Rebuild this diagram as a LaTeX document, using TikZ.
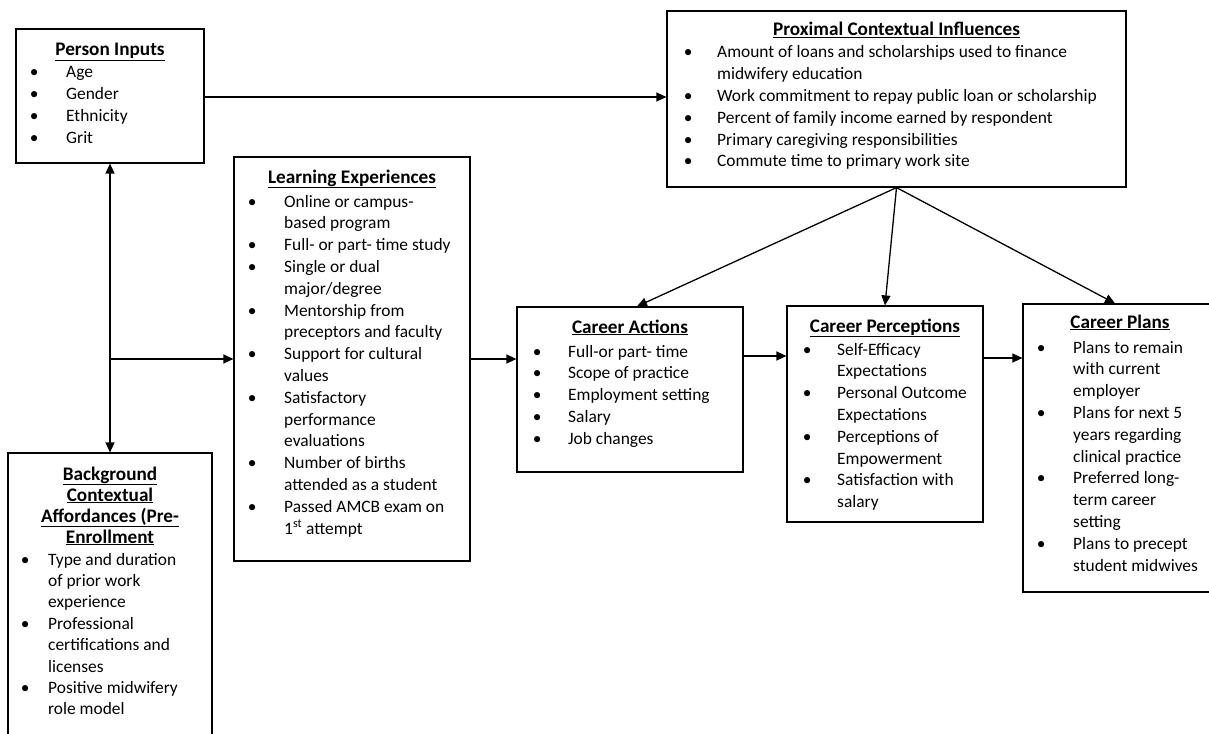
\documentclass[tikz,border=0pt]{standalone}
\usepackage{fontspec}
\setmainfont{Carlito}
\usetikzlibrary{arrows.meta}
% bullet set in a fixed-width slot, and the indent of a wrapped line
\newcommand\bl[1]{\makebox[#1][l]{\makebox[20pt]{\textbullet}}}
\newcommand\cn[1]{\hspace*{#1}}

\begin{document}
\begin{tikzpicture}[x=1pt,y=-1pt,
  box/.style={draw, line width=1.2pt, inner sep=0pt},
  ttl/.style={font=\fontsize{19.2}{21}\selectfont\bfseries, inner sep=0pt, anchor=base},
  lst/.style={font=\fontsize{17.4}{21.8}\selectfont, inner sep=0pt, anchor=base west},
  arr/.style={line width=1.3pt, -{Triangle[length=10pt,width=9pt]}},
  arrboth/.style={line width=1.3pt, {Triangle[length=10pt,width=9pt]}-{Triangle[length=10pt,width=9pt]}},
]
\useasboundingbox (0,0) rectangle (1209,733);

% ---------- frames ----------
\node[box, minimum width=188pt, minimum height=134pt] (pin)   at (110,96)    {};
\node[box, minimum width=459pt, minimum height=176pt] (prox)  at (896.5,99)  {};
\node[box, minimum width=236pt, minimum height=404pt] (learn) at (352,359)   {};
\node[box, minimum width=226pt, minimum height=165pt] (act)   at (630,389.5) {};
\node[box, minimum width=196pt, minimum height=216pt] (perc)  at (885,414)   {};
\node[box, minimum width=194pt, minimum height=288pt] (plan)  at (1120,448)  {};
\node[box, minimum width=204pt, minimum height=307pt] (bg)    at (110,606.5) {};

% ---------- Person Inputs ----------
\node[ttl] (pin-t) at (110,56) {\underline{Person Inputs}};
\node[lst] (pin-l) at (24,78) {\begin{tabular}[t]{@{}l@{}}
\bl{42pt}Age\\
\bl{42pt}Gender\\
\bl{42pt}Ethnicity\\
\bl{42pt}Grit
\end{tabular}};

% ---------- Proximal Contextual Influences ----------
\node[ttl] (prox-t) at (896.5,36) {\underline{Proximal Contextual Influences}};
\node[lst] (prox-l) at (678,58) {\begin{tabular}[t]{@{}l@{}}
\bl{39pt}Amount of loans and scholarships used to finance\\
\cn{39pt}midwifery education\\
\bl{39pt}Work commitment to repay public loan or scholarship\\
\bl{39pt}Percent of family income earned by respondent\\
\bl{39pt}Primary caregiving responsibilities\\
\bl{39pt}Commute time to primary work site
\end{tabular}};

% ---------- Learning Experiences ----------
\node[ttl] (learn-t) at (352,183) {\underline{Learning Experiences}};
\node[lst] (learn-l) at (242,207) {\begin{tabular}[t]{@{}l@{}}
\bl{42pt}Online or campus-\\
\cn{42pt}based program\\
\bl{42pt}Full- or part- time study\\
\bl{42pt}Single or dual\\
\cn{42pt}major/degree\\
\bl{42pt}Mentorship from\\
\cn{42pt}preceptors and faculty\\
\bl{42pt}Support for cultural\\
\cn{42pt}values\\
\bl{42pt}Satisfactory\\
\cn{42pt}performance\\
\cn{42pt}evaluations\\
\bl{42pt}Number of births\\
\cn{42pt}attended as a student\\
\bl{42pt}Passed AMCB exam on\\
\cn{42pt}1\textsuperscript{st} attempt
\end{tabular}};

% ---------- Career Actions ----------
\node[ttl] (act-t) at (630,333) {\underline{Career Actions}};
\node[lst] (act-l) at (527,357) {\begin{tabular}[t]{@{}l@{}}
\bl{41pt}Full-or part- time\\
\bl{41pt}Scope of practice\\
\bl{41pt}Employment setting\\
\bl{41pt}Salary\\
\bl{41pt}Job changes
\end{tabular}};

% ---------- Career Perceptions ----------
\node[ttl] (perc-t) at (885,332) {\underline{Career Perceptions}};
\node[lst] (perc-l) at (797,355) {\begin{tabular}[t]{@{}l@{}}
\bl{40pt}Self-Efficacy\\
\cn{40pt}Expectations\\
\bl{40pt}Personal Outcome\\
\cn{40pt}Expectations\\
\bl{40pt}Perceptions of\\
\cn{40pt}Empowerment\\
\bl{40pt}Satisfaction with\\
\cn{40pt}salary
\end{tabular}};

% ---------- Career Plans ----------
\node[ttl] (plan-t) at (1120,328) {\underline{Career Plans}};
\node[lst] (plan-l) at (1031,353) {\begin{tabular}[t]{@{}l@{}}
\bl{42pt}Plans to remain\\
\cn{42pt}with current\\
\cn{42pt}employer\\
\bl{42pt}Plans for next 5\\
\cn{42pt}years regarding\\
\cn{42pt}clinical practice\\
\bl{42pt}Preferred long-\\
\cn{42pt}term career\\
\cn{42pt}setting\\
\bl{42pt}Plans to precept\\
\cn{42pt}student midwives
\end{tabular}};

% ---------- Background Contextual Affordances ----------
\node[ttl] (bg-t) at (110,480) {\begin{tabular}[t]{@{}c@{}}
\underline{Background}\\
\underline{Contextual}\\
\underline{Affordances (Pre-}\\
\underline{Enrollment}
\end{tabular}};
\node[lst, font=\fontsize{17.4}{21.4}\selectfont] (bg-l) at (15,565) {\begin{tabular}[t]{@{}l@{}}
\bl{33pt}Type and duration\\
\cn{33pt}of prior work\\
\cn{33pt}experience\\
\bl{33pt}Professional\\
\cn{33pt}certifications and\\
\cn{33pt}licenses\\
\bl{33pt}Positive midwifery\\
\cn{33pt}role model
\end{tabular}};

% ---------- connectors ----------
\coordinate (br) at (110,359);
\draw[arr] (pin.east |- 0,97) -- (prox.west |- 0,97);
\draw[arrboth] (pin.south) -- (bg.north);
\draw[arr] (br) -- (br -| learn.west);
\draw[arr] (learn.east) -- (learn.east -| act.west);
\draw[arr] (act.east |- 0,356) -- (perc.west |- 0,356);
\draw[arr] (perc.east |- 0,358) -- (plan.west |- 0,358);
\draw[arr] (prox.south) -- ([xshift=7pt]act.north);
\draw[arr] (prox.south) -- (perc.north);
\draw[arr] (prox.south) -- ([xshift=-5pt]plan.north);
\end{tikzpicture}
\end{document}
